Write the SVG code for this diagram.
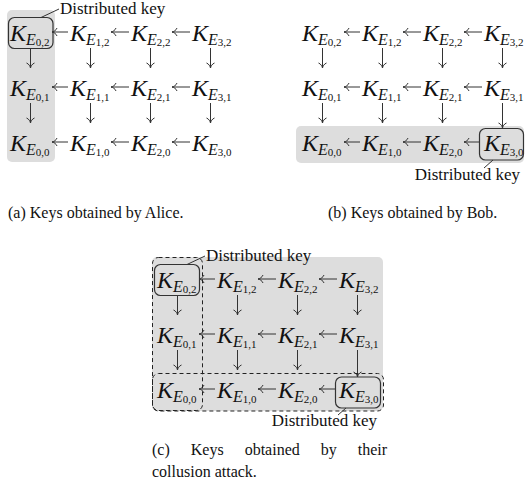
<svg xmlns="http://www.w3.org/2000/svg" width="525" height="494" viewBox="0 0 525 494">
  <style>
    .k { font-family: "Liberation Serif", "Times New Roman", serif; font-style: italic; font-size: 24px; fill: #111; }
    .e { font-size: 16px; }
    .n { font-size: 11px; font-style: normal; }
    .lbl { font-family: "Liberation Serif", "Times New Roman", serif; font-size: 17px; fill: #111; }
    .cap { font-family: "Liberation Serif", "Times New Roman", serif; font-size: 16px; fill: #111; }
    .arr { stroke: #333; stroke-width: 1; fill: none; marker-end: url(#ah); }
    .box { fill: none; stroke: #333; stroke-width: 1.2; }
    .dash { fill: none; stroke: #222; stroke-width: 1; stroke-dasharray: 4 3; }
    .shade { fill: #dddddd; }
    .lead { stroke: #333; stroke-width: 1; fill: none; }
  </style>
  <defs>
    <marker id="ah" markerUnits="userSpaceOnUse" orient="auto" viewBox="-7 -6 9 12" refX="0" refY="0" markerWidth="9" markerHeight="12" overflow="visible">
      <path d="M-5,-4 C-4.2,-1.6 -1.5,-0.3 0,0 C-1.5,0.3 -4.2,1.6 -5,4" fill="none" stroke="#333" stroke-width="1"/>
    </marker>
  </defs>

  <!-- ===== (a) Alice ===== -->
  <g id="panel-a">
    <rect class="shade" x="7" y="10" width="48" height="152" rx="5"/>
    <g id="a-k02"><text class="k" x="10" y="41">K<tspan class="e" dy="4">E</tspan><tspan class="n" dy="1">0,2</tspan></text></g>
    <g id="a-k12"><text class="k" x="70" y="41">K<tspan class="e" dy="4">E</tspan><tspan class="n" dy="1">1,2</tspan></text></g>
    <g id="a-k22"><text class="k" x="131" y="41">K<tspan class="e" dy="4">E</tspan><tspan class="n" dy="1">2,2</tspan></text></g>
    <g id="a-k32"><text class="k" x="192" y="41">K<tspan class="e" dy="4">E</tspan><tspan class="n" dy="1">3,2</tspan></text></g>
    <g id="a-k01"><text class="k" x="10" y="96">K<tspan class="e" dy="4">E</tspan><tspan class="n" dy="1">0,1</tspan></text></g>
    <g id="a-k11"><text class="k" x="70" y="96">K<tspan class="e" dy="4">E</tspan><tspan class="n" dy="1">1,1</tspan></text></g>
    <g id="a-k21"><text class="k" x="131" y="96">K<tspan class="e" dy="4">E</tspan><tspan class="n" dy="1">2,1</tspan></text></g>
    <g id="a-k31"><text class="k" x="192" y="96">K<tspan class="e" dy="4">E</tspan><tspan class="n" dy="1">3,1</tspan></text></g>
    <g id="a-k00"><text class="k" x="10" y="151">K<tspan class="e" dy="4">E</tspan><tspan class="n" dy="1">0,0</tspan></text></g>
    <g id="a-k10"><text class="k" x="70" y="151">K<tspan class="e" dy="4">E</tspan><tspan class="n" dy="1">1,0</tspan></text></g>
    <g id="a-k20"><text class="k" x="131" y="151">K<tspan class="e" dy="4">E</tspan><tspan class="n" dy="1">2,0</tspan></text></g>
    <g id="a-k30"><text class="k" x="192" y="151">K<tspan class="e" dy="4">E</tspan><tspan class="n" dy="1">3,0</tspan></text></g>
    <g id="a-connectors">
      <path class="arr" d="M68,32 H52"/><path class="arr" d="M129,32 H111"/><path class="arr" d="M190,32 H172"/>
      <path class="arr" d="M68,87 H52"/><path class="arr" d="M129,87 H111"/><path class="arr" d="M190,87 H172"/>
      <path class="arr" d="M68,142 H52"/><path class="arr" d="M129,142 H111"/><path class="arr" d="M190,142 H172"/>
      <path class="arr" d="M30.5,48 V68"/><path class="arr" d="M90.5,48 V68"/><path class="arr" d="M150.5,48 V68"/><path class="arr" d="M210.5,48 V68"/>
      <path class="arr" d="M30.5,103 V123"/><path class="arr" d="M90.5,103 V123"/><path class="arr" d="M150.5,103 V123"/><path class="arr" d="M210.5,103 V123"/>
    </g>
    <g id="a-distributed">
      <rect class="box" x="8.5" y="17.5" width="44.5" height="31" rx="6"/>
      <path class="lead" d="M41,17.5 L59,9"/>
      <text class="lbl" x="60" y="14">Distributed key</text>
    </g>
    <text class="cap" x="8" y="218">(a) Keys obtained by Alice.</text>
  </g>

  <!-- ===== (b) Bob ===== -->
  <g id="panel-b">
    <rect class="shade" x="296" y="126" width="228" height="37" rx="5"/>
    <g id="b-k02"><text class="k" x="302" y="41">K<tspan class="e" dy="4">E</tspan><tspan class="n" dy="1">0,2</tspan></text></g>
    <g id="b-k12"><text class="k" x="362" y="41">K<tspan class="e" dy="4">E</tspan><tspan class="n" dy="1">1,2</tspan></text></g>
    <g id="b-k22"><text class="k" x="423" y="41">K<tspan class="e" dy="4">E</tspan><tspan class="n" dy="1">2,2</tspan></text></g>
    <g id="b-k32"><text class="k" x="484" y="41">K<tspan class="e" dy="4">E</tspan><tspan class="n" dy="1">3,2</tspan></text></g>
    <g id="b-k01"><text class="k" x="302" y="96">K<tspan class="e" dy="4">E</tspan><tspan class="n" dy="1">0,1</tspan></text></g>
    <g id="b-k11"><text class="k" x="362" y="96">K<tspan class="e" dy="4">E</tspan><tspan class="n" dy="1">1,1</tspan></text></g>
    <g id="b-k21"><text class="k" x="423" y="96">K<tspan class="e" dy="4">E</tspan><tspan class="n" dy="1">2,1</tspan></text></g>
    <g id="b-k31"><text class="k" x="484" y="96">K<tspan class="e" dy="4">E</tspan><tspan class="n" dy="1">3,1</tspan></text></g>
    <g id="b-k00"><text class="k" x="302" y="151">K<tspan class="e" dy="4">E</tspan><tspan class="n" dy="1">0,0</tspan></text></g>
    <g id="b-k10"><text class="k" x="362" y="151">K<tspan class="e" dy="4">E</tspan><tspan class="n" dy="1">1,0</tspan></text></g>
    <g id="b-k20"><text class="k" x="423" y="151">K<tspan class="e" dy="4">E</tspan><tspan class="n" dy="1">2,0</tspan></text></g>
    <g id="b-k30"><text class="k" x="484" y="151">K<tspan class="e" dy="4">E</tspan><tspan class="n" dy="1">3,0</tspan></text></g>
    <g id="b-connectors">
      <path class="arr" d="M360,32 H344"/><path class="arr" d="M421,32 H403"/><path class="arr" d="M482,32 H464"/>
      <path class="arr" d="M360,87 H344"/><path class="arr" d="M421,87 H403"/><path class="arr" d="M482,87 H464"/>
      <path class="arr" d="M360,142 H344"/><path class="arr" d="M421,142 H403"/><path class="arr" d="M479,142 H464"/>
      <path class="arr" d="M322.5,48 V68"/><path class="arr" d="M382.5,48 V68"/><path class="arr" d="M442.5,48 V68"/><path class="arr" d="M502.5,48 V68"/>
      <path class="arr" d="M322.5,103 V123"/><path class="arr" d="M382.5,103 V123"/><path class="arr" d="M442.5,103 V123"/><path class="arr" d="M502.5,103 V128"/>
    </g>
    <g id="b-distributed">
      <rect class="box" x="479.5" y="128.5" width="44" height="31.5" rx="6"/>
      <path class="lead" d="M493,160 L484,168"/>
      <text class="lbl" x="520" y="180" text-anchor="end">Distributed key</text>
    </g>
    <text class="cap" x="328" y="218">(b) Keys obtained by Bob.</text>
  </g>

  <!-- ===== (c) collusion ===== -->
  <g id="panel-c">
    <rect class="shade" x="152" y="257" width="231" height="154" rx="5"/>
    <g id="c-k02"><text class="k" x="157" y="288">K<tspan class="e" dy="4">E</tspan><tspan class="n" dy="1">0,2</tspan></text></g>
    <g id="c-k12"><text class="k" x="217" y="288">K<tspan class="e" dy="4">E</tspan><tspan class="n" dy="1">1,2</tspan></text></g>
    <g id="c-k22"><text class="k" x="278" y="288">K<tspan class="e" dy="4">E</tspan><tspan class="n" dy="1">2,2</tspan></text></g>
    <g id="c-k32"><text class="k" x="339" y="288">K<tspan class="e" dy="4">E</tspan><tspan class="n" dy="1">3,2</tspan></text></g>
    <g id="c-k01"><text class="k" x="157" y="343">K<tspan class="e" dy="4">E</tspan><tspan class="n" dy="1">0,1</tspan></text></g>
    <g id="c-k11"><text class="k" x="217" y="343">K<tspan class="e" dy="4">E</tspan><tspan class="n" dy="1">1,1</tspan></text></g>
    <g id="c-k21"><text class="k" x="278" y="343">K<tspan class="e" dy="4">E</tspan><tspan class="n" dy="1">2,1</tspan></text></g>
    <g id="c-k31"><text class="k" x="339" y="343">K<tspan class="e" dy="4">E</tspan><tspan class="n" dy="1">3,1</tspan></text></g>
    <g id="c-k00"><text class="k" x="157" y="398">K<tspan class="e" dy="4">E</tspan><tspan class="n" dy="1">0,0</tspan></text></g>
    <g id="c-k10"><text class="k" x="217" y="398">K<tspan class="e" dy="4">E</tspan><tspan class="n" dy="1">1,0</tspan></text></g>
    <g id="c-k20"><text class="k" x="278" y="398">K<tspan class="e" dy="4">E</tspan><tspan class="n" dy="1">2,0</tspan></text></g>
    <g id="c-k30"><text class="k" x="339" y="398">K<tspan class="e" dy="4">E</tspan><tspan class="n" dy="1">3,0</tspan></text></g>
    <g id="c-connectors">
      <path class="arr" d="M215,279 H199"/><path class="arr" d="M276,279 H258"/><path class="arr" d="M337,279 H319"/>
      <path class="arr" d="M215,334 H199"/><path class="arr" d="M276,334 H258"/><path class="arr" d="M337,334 H319"/>
      <path class="arr" d="M215,389 H199"/><path class="arr" d="M276,389 H258"/><path class="arr" d="M335,389 H319"/>
      <path class="arr" d="M177.5,295 V315"/><path class="arr" d="M237.5,295 V315"/><path class="arr" d="M297.5,295 V315"/><path class="arr" d="M357.5,295 V315"/>
      <path class="arr" d="M177.5,350 V370"/><path class="arr" d="M237.5,350 V370"/><path class="arr" d="M297.5,350 V370"/><path class="arr" d="M357.5,350 V377"/>
    </g>
    <rect class="dash" x="152.5" y="257.5" width="50" height="153" rx="6"/>
    <rect class="dash" x="152.5" y="373.5" width="231" height="37.5" rx="6"/>
    <g id="c-distributed-1">
      <rect class="box" x="154.5" y="264.5" width="45" height="31" rx="6"/>
      <path class="lead" d="M187,264.5 L205,256"/>
      <text class="lbl" x="206" y="261">Distributed key</text>
    </g>
    <g id="c-distributed-2">
      <rect class="box" x="335.5" y="377" width="45" height="31" rx="6"/>
      <path class="lead" d="M346,408 L338,415"/>
      <text class="lbl" x="377" y="426" text-anchor="end">Distributed key</text>
    </g>
    <text class="cap" x="152" y="455" word-spacing="17">(c) Keys obtained by their</text>
    <text class="cap" x="152" y="477">collusion attack.</text>
  </g>
</svg>
